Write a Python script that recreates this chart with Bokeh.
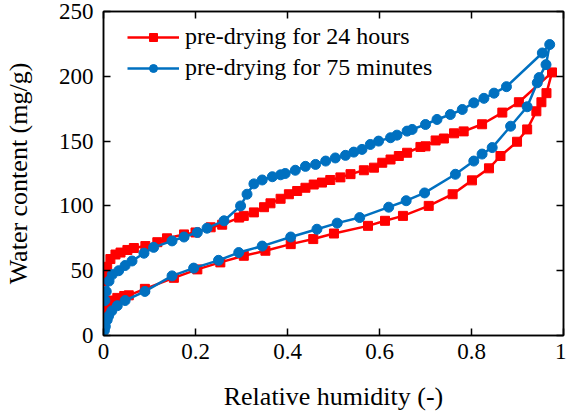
from bokeh.plotting import figure
from bokeh.models import FixedTicker, LinearAxis, Legend
from bokeh.embed import file_html
from bokeh.resources import INLINE

# ---- data ----
rh_24h = [0.000, 0.001, 0.002, 0.004, 0.008, 0.018, 0.030, 0.045, 0.055, 0.090,
          0.153, 0.204, 0.254, 0.305, 0.352, 0.407, 0.456, 0.501, 0.575, 0.612,
          0.651, 0.707, 0.759, 0.801, 0.838, 0.863, 0.899, 0.921, 0.941, 0.952,
          0.963, 0.975,
          0.903, 0.867, 0.823, 0.783, 0.762, 0.740, 0.722, 0.700, 0.689, 0.660,
          0.642, 0.624, 0.606, 0.588, 0.566, 0.537, 0.515, 0.493, 0.475, 0.457,
          0.439, 0.421, 0.403, 0.385, 0.363, 0.349, 0.327, 0.305, 0.295, 0.258,
          0.233, 0.200, 0.175, 0.138, 0.117, 0.091, 0.066, 0.052, 0.037, 0.026,
          0.015, 0.008, 0.004, 0.002]
wc_24h = [5, 10, 15, 20, 24, 27, 29, 30.5, 31, 36,
          44.5, 51, 56.4, 61.5, 65.4, 70.5, 74.4, 78.7, 84.6, 88.5,
          92.3, 100, 109, 119.7, 129, 138.5, 149.5, 159, 173, 180,
          187, 203,
          180, 172, 163, 157.5, 156, 152, 150.5, 146, 145.5, 141,
          138.5, 135.8, 133.3, 129.5, 127.5, 124.5, 122, 120, 118, 116.5,
          114, 111.5, 109, 105.5, 102, 99, 95, 92.3, 91, 85.5,
          83.5, 79.5, 78, 75, 72, 69, 67.5, 66, 64, 62.5,
          59, 53, 47, 42]

rh_75min = [0.002, 0.004, 0.008, 0.011, 0.018, 0.030, 0.047, 0.090, 0.149, 0.196,
            0.250, 0.294, 0.345, 0.407, 0.464, 0.508, 0.557, 0.620, 0.658, 0.698,
            0.765, 0.805, 0.823, 0.845, 0.885, 0.921, 0.943, 0.947, 0.962, 0.970,
            0.954, 0.876, 0.849, 0.827, 0.805, 0.780, 0.754, 0.725, 0.700, 0.671,
            0.660, 0.638, 0.624, 0.598, 0.580, 0.562, 0.544, 0.526, 0.504, 0.483,
            0.461, 0.439, 0.417, 0.395, 0.385, 0.367, 0.345, 0.327, 0.312, 0.298,
            0.262, 0.225, 0.204, 0.175, 0.149, 0.109, 0.088, 0.062, 0.047, 0.033,
            0.019, 0.012, 0.006, 0.003]
wc_75min = [4, 7, 12, 15, 19, 23, 27, 34, 46, 52,
            58, 64, 69, 76, 82, 86.7, 91, 99, 104, 110,
            124.4, 134.6, 140, 145, 161.5, 176.5, 195, 199, 209, 224.5,
            218, 192, 187, 183, 179.5, 174.4, 170.5, 166.7, 162.8, 159,
            157.7, 154.6, 152.6, 150, 147.4, 143.6, 141.5, 139, 137, 134.6,
            132, 130.5, 127.5, 125, 124, 122.5, 120, 117, 109, 100,
            88.5, 82.8, 79.5, 76, 73, 68, 63.5, 57.5, 54, 50,
            47, 42, 34, 27]

series_names = ["pre-drying for 24 hours", "pre-drying for 75 minutes"]
x_ticks = [0, 0.2, 0.4, 0.6, 0.8, 1.0]
x_tick_labels = ["0", "0.2", "0.4", "0.6", "0.8", "1"]
y_ticks = [0, 50, 100, 150, 200, 250]
x_title = "Relative humidity (-)"
y_title = "Water content (mg/g)"

RED = "#FF0000"
BLUE = "#0070C0"
FONT = "Times New Roman"

p = figure(width=566, height=418, x_range=(0, 1), y_range=(0, 250),
           output_backend="svg", toolbar_location=None,
           min_border_left=103, min_border_right=3, min_border_top=11,
           min_border_bottom=83)
p.grid.visible = False
p.outline_line_color = "black"
p.outline_line_width = 1.5
p.background_fill_color = "white"
p.border_fill_color = "white"

r1 = p.line(rh_24h, wc_24h, color=RED, line_width=2.5)
r2 = p.scatter(rh_24h, wc_24h, marker="square", size=9, color=RED)
b1 = p.line(rh_75min, wc_75min, color=BLUE, line_width=2.5)
b2 = p.scatter(rh_75min, wc_75min, marker="circle", size=10, color=BLUE)

xa = p.xaxis[0]
xa.ticker = FixedTicker(ticks=x_ticks)
xa.major_label_overrides = {t: l for t, l in zip(x_ticks, x_tick_labels)}
ya = p.yaxis[0]
ya.ticker = FixedTicker(ticks=y_ticks)
for ax in (xa, ya):
    ax.major_tick_in = 7
    ax.major_tick_out = 0
    ax.minor_tick_line_color = None
    ax.axis_line_width = 1.5
    ax.major_tick_line_width = 1.5
    ax.major_label_text_font = FONT
    ax.major_label_text_font_size = "23px"
    ax.major_label_text_color = "black"
    ax.axis_label_text_font = FONT
    ax.axis_label_text_font_size = "26px"
    ax.axis_label_text_font_style = "normal"
    ax.axis_label_text_color = "black"
xa.axis_label = x_title
ya.axis_label = y_title
xa.major_label_standoff = 8
xa.axis_label_standoff = 20
ya.major_label_standoff = 10
ya.axis_label_standoff = 23

# inward ticks on the top and right edges (labels not drawn)
top = LinearAxis(ticker=FixedTicker(ticks=x_ticks), major_tick_in=7, major_tick_out=0,
                 minor_tick_line_color=None, major_label_text_font_size="1px",
                 major_label_text_color=None,
                 major_label_standoff=0, axis_line_width=1.5, major_tick_line_width=1.5)
right = LinearAxis(ticker=FixedTicker(ticks=y_ticks), major_tick_in=7, major_tick_out=0,
                   minor_tick_line_color=None, major_label_text_font_size="1px",
                   major_label_text_color=None,
                   major_label_standoff=0, axis_line_width=1.5, major_tick_line_width=1.5)
p.add_layout(top, "above")
p.add_layout(right, "right")

legend = Legend(items=[(series_names[0], [r1, r2]), (series_names[1], [b1, b2])],
                location=(14, 244))
legend.label_text_font = FONT
legend.label_text_font_size = "24px"
legend.label_text_color = "black"
legend.glyph_width = 52
legend.glyph_height = 20
legend.label_standoff = 6
legend.spacing = 4
legend.padding = 10
legend.margin = 0
legend.border_line_alpha = 0
legend.background_fill_alpha = 0
p.add_layout(legend)

open("out.html", "w").write(file_html(p, INLINE))
